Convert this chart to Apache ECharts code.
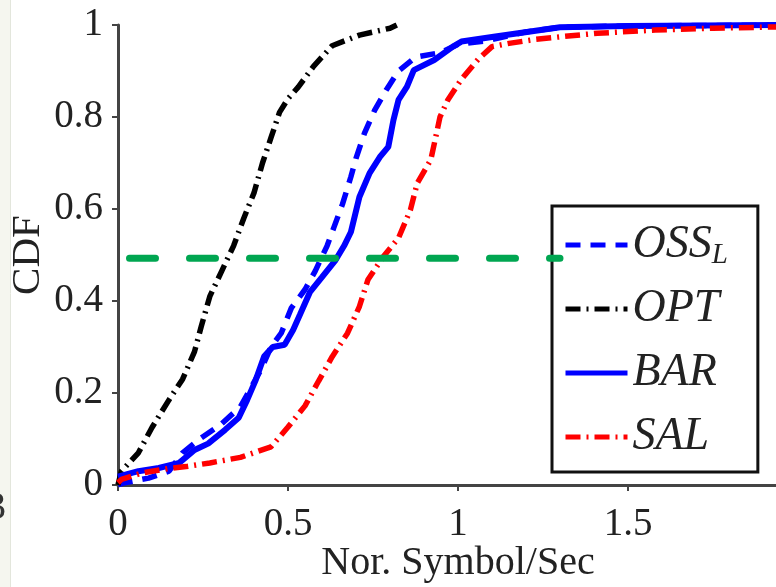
<!DOCTYPE html>
<html>
<head>
<meta charset="utf-8">
<script src="https://cdn.jsdelivr.net/npm/echarts@6/dist/echarts.min.js"></script>
<style>
  html, body { margin: 0; padding: 0; background: #fff; }
  #chart { width: 776px; height: 587px; }
</style>
</head>
<body>
<div id="chart"></div>
<script>
// Empirical CDFs of the normalized symbol rate for each scheme.
const seriesNames = ['OSS_L', 'OPT', 'BAR', 'SAL'];

const ossX = [0, 0.02, 0.09, 0.15, 0.19, 0.24, 0.30, 0.36, 0.42, 0.45, 0.48, 0.51, 0.55, 0.58, 0.615, 0.635, 0.66, 0.685, 0.70, 0.725, 0.755, 0.79, 0.825, 0.875, 0.95, 1.0, 1.08, 1.2, 1.3, 1.5, 1.95];
const ossY = [0, 0.005, 0.015, 0.03, 0.07, 0.10, 0.13, 0.17, 0.25, 0.30, 0.33, 0.385, 0.425, 0.465, 0.52, 0.56, 0.61, 0.67, 0.71, 0.765, 0.815, 0.86, 0.90, 0.93, 0.94, 0.958, 0.965, 0.985, 0.995, 0.998, 1.0];

const optX = [0, 0.01, 0.06, 0.10, 0.15, 0.19, 0.225, 0.245, 0.27, 0.305, 0.34, 0.37, 0.40, 0.425, 0.45, 0.475, 0.50, 0.53, 0.575, 0.63, 0.71, 0.80, 0.82];
const optY = [0, 0.03, 0.07, 0.125, 0.185, 0.23, 0.29, 0.345, 0.41, 0.465, 0.52, 0.58, 0.635, 0.70, 0.755, 0.81, 0.84, 0.865, 0.91, 0.955, 0.978, 0.993, 1.0];

const barX = [0, 0.06, 0.12, 0.18, 0.225, 0.265, 0.315, 0.355, 0.38, 0.405, 0.43, 0.455, 0.49, 0.515, 0.535, 0.565, 0.60, 0.64, 0.665, 0.685, 0.71, 0.74, 0.77, 0.795, 0.81, 0.825, 0.85, 0.87, 0.93, 0.985, 1.01, 1.11, 1.3, 1.5, 1.95];
const barY = [0.018, 0.03, 0.037, 0.048, 0.076, 0.09, 0.12, 0.146, 0.185, 0.228, 0.28, 0.30, 0.305, 0.337, 0.37, 0.42, 0.452, 0.489, 0.52, 0.55, 0.626, 0.678, 0.713, 0.735, 0.793, 0.837, 0.866, 0.902, 0.924, 0.953, 0.964, 0.975, 0.995, 0.998, 1.0];

const salX = [0, 0.01, 0.07, 0.15, 0.20, 0.27, 0.36, 0.45, 0.50, 0.55, 0.59, 0.63, 0.675, 0.71, 0.735, 0.78, 0.825, 0.86, 0.88, 0.92, 0.937, 0.947, 0.97, 1.01, 1.06, 1.10, 1.15, 1.23, 1.31, 1.41, 1.58, 1.75, 1.95];
const salY = [0.005, 0.012, 0.026, 0.036, 0.04, 0.048, 0.06, 0.083, 0.126, 0.172, 0.226, 0.279, 0.33, 0.388, 0.446, 0.496, 0.537, 0.598, 0.656, 0.707, 0.765, 0.80, 0.837, 0.882, 0.926, 0.953, 0.96, 0.969, 0.975, 0.982, 0.989, 0.993, 0.996];

// Horizontal median marker
const medianX = [0, 1.3];
const medianY = [0.493, 0.493];

function zip(xs, ys) { return xs.map((x, i) => [x, ys[i]]); }

const serif = '"Liberation Serif", "Times New Roman", serif';
const ink = '#222';
const axisColor = '#444';

function curve(name, xs, ys, color, type, width) {
  return {
    name: name,
    type: 'line',
    data: zip(xs, ys),
    showSymbol: false,
    symbol: 'none',
    smooth: false,
    silent: true,
    color: color,
    lineStyle: { color: color, width: width, type: type }
  };
}

const chart = echarts.init(document.getElementById('chart'), null, { renderer: 'canvas' });

chart.setOption({
  animation: false,
  backgroundColor: '#fff',
  grid: { left: 118, top: 25, width: 680, height: 460, containLabel: false, outerBoundsMode: 'none' },
  xAxis: {
    type: 'value', min: 0, max: 2, interval: 0.5,
    name: 'Nor. Symbol/Sec', nameLocation: 'middle', nameGap: 58, nameMoveOverlap: false,
    nameTextStyle: { fontFamily: serif, fontSize: 40, color: ink },
    axisLine: { show: true, lineStyle: { color: axisColor, width: 3 } },
    axisTick: { show: true, length: 6, lineStyle: { color: axisColor, width: 2 } },
    axisLabel: { fontFamily: serif, fontSize: 39, color: ink, margin: 20 },
    splitLine: { show: false }
  },
  yAxis: {
    type: 'value', min: 0, max: 1, interval: 0.2,
    name: 'CDF', nameLocation: 'middle', nameGap: 69, nameMoveOverlap: false,
    nameTextStyle: { fontFamily: serif, fontSize: 41, color: ink },
    axisLine: { show: true, lineStyle: { color: axisColor, width: 3 } },
    axisTick: { show: true, length: 6, lineStyle: { color: axisColor, width: 2 } },
    axisLabel: { fontFamily: serif, fontSize: 39, color: ink, margin: 15 },
    splitLine: { show: false }
  },
  legend: {
    orient: 'vertical',
    left: 552, top: 206,
    data: seriesNames,
    selectedMode: false,
    itemWidth: 62, itemHeight: 20, itemGap: 14,
    padding: [14, 30, 10, 11],
    borderColor: '#111', borderWidth: 3, borderRadius: 0,
    backgroundColor: '#fff',
    itemStyle: { opacity: 0 },
    lineStyle: { width: 5 },
    formatter: function (n) { return n === 'OSS_L' ? '{m|OSS}{s|L}' : '{m|' + n + '}'; },
    textStyle: {
      fontFamily: serif, fontStyle: 'italic', fontSize: 46, color: ink, lineHeight: 50,
      rich: {
        m: { fontFamily: serif, fontStyle: 'italic', fontSize: 46, color: ink, lineHeight: 50 },
        s: { fontFamily: serif, fontStyle: 'italic', fontSize: 29, color: ink, lineHeight: 28, verticalAlign: 'bottom' }
      }
    }
  },
  graphic: [
    { type: 'rect', left: 0, top: 0, shape: { width: 10, height: 587 }, style: { fill: '#f5f6ef' }, silent: true },
    { type: 'line', shape: { x1: 10.5, y1: 0, x2: 10.5, y2: 587 }, style: { stroke: '#e3e6dc', lineWidth: 1 }, silent: true },
    { type: 'text', x: 6, y: 508, style: { text: '3', fontFamily: serif, fontSize: 40, fill: '#333', align: 'right', verticalAlign: 'middle' }, silent: true }
  ],
  series: [
    curve('OSS_L', ossX, ossY, '#0000ff', [15, 10], 5.5),
    curve('OPT', optX, optY, '#000000', [15, 6, 2, 6], 5.5),
    curve('BAR', barX, barY, '#0000ff', 'solid', 6),
    curve('SAL', salX, salY, '#ff0000', [15, 6, 2, 6], 5.5),
    {
      name: 'median',
      type: 'line',
      data: zip(medianX, medianY),
      showSymbol: false,
      symbol: 'none',
      silent: true,
      z: 10,
      lineStyle: { color: '#00a651', width: 7, type: [26, 34], dashOffset: 48.5, cap: 'round' }
    }
  ]
});
</script>
</body>
</html>
